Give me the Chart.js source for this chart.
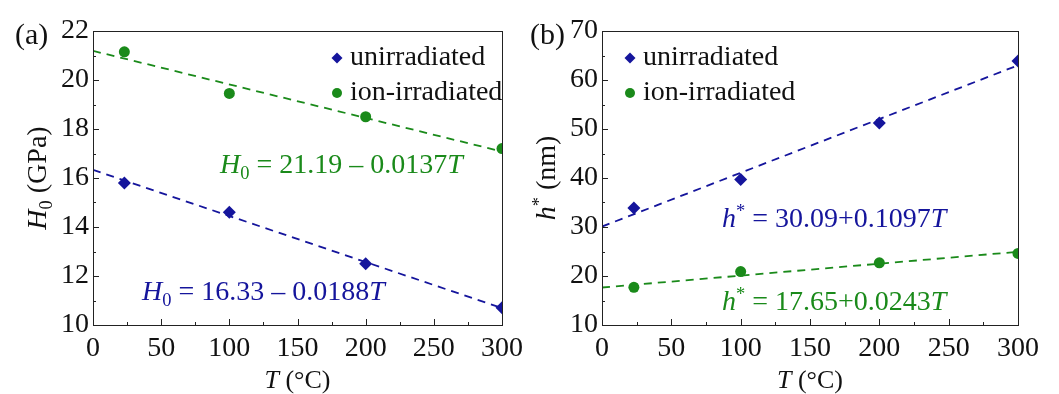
<!DOCTYPE html>
<html>
<head>
<meta charset="utf-8">
<script src="https://cdn.jsdelivr.net/npm/chart.js"></script>
<style>
  body { margin: 0; background: #fff; }
  #wrap { position: relative; width: 1059px; height: 394px; overflow: hidden; }
  .panel { position: absolute; top: 0; }
</style>
</head>
<body>
<div id="wrap">
  <div class="panel" style="left:0"><canvas id="chartA" width="530" height="394"></canvas></div>
  <div class="panel" style="left:530px"><canvas id="chartB" width="529" height="394"></canvas></div>
</div>
<script>
// measured temperatures (°C)
const tempC = [23, 100, 200, 300];
// (a) hardness H0 (GPa)
const hardUnirr = [15.8, 14.6, 12.5, 10.7];
const hardIon = [21.15, 19.45, 18.5, 17.2];
// (b) characteristic depth h* (nm)
const depthUnirr = [33.9, 39.7, 51.2, 63.9];
const depthIon = [17.7, 20.9, 22.7, 24.6];
// linear fits [intercept, slope] as printed on the figure
const hardFitUnirr = [16.33, -0.0188];
const hardFitIon = [21.19, -0.0137];
const depthFitUnirr = [30.09, 0.1097];
const depthFitIon = [17.65, 0.0243];
const fitRange = [0, 300];
const seriesNames = ['unirradiated', 'ion-irradiated'];

const BLUE = '#15159c';
const GREEN = '#1a8a1a';
const FONT = "'Liberation Serif', 'DejaVu Serif', serif";

function pts(xs, ys) {
    return xs.map((x, i) => ({ x: x, y: ys[i] }));
}
function fitLine(c) {
    return fitRange.map(t => ({ x: t, y: c[0] + c[1] * t }));
}

// draw a run of text pieces (italic / sub / sup) starting at x
function drawPieces(ctx, pieces, x, y, size, color) {
    let cx = x;
    pieces.forEach(p => {
        let s = size, dy = 0;
        if (p.sub) { s = size * 0.66; dy = size * 0.22; }
        if (p.sup) { s = size * 0.66; dy = -size * 0.34; }
        ctx.font = (p.it ? 'italic ' : '') + s + 'px ' + FONT;
        ctx.fillStyle = color;
        ctx.fillText(p.t, cx, y + dy);
        cx += ctx.measureText(p.t).width;
    });
    return cx - x;
}
function piecesWidth(ctx, pieces, size) {
    let w = 0;
    pieces.forEach(p => {
        const s = (p.sub || p.sup) ? size * 0.66 : size;
        ctx.font = (p.it ? 'italic ' : '') + s + 'px ' + FONT;
        w += ctx.measureText(p.t).width;
    });
    return w;
}

const decorPlugin = {
    id: 'decor',
    afterDraw(chart, args, o) {
        const ctx = chart.ctx;
        const a = chart.chartArea;
        const xs = chart.scales.x, ys = chart.scales.y;
        ctx.save();
        ctx.strokeStyle = '#222';
        ctx.lineWidth = 1;
        ctx.strokeRect(Math.round(a.left) + 0.5, Math.round(a.top) + 0.5,
            Math.round(a.right - a.left), Math.round(a.bottom - a.top));
        // inward ticks
        ctx.beginPath();
        for (let v = xs.min; v <= xs.max; v += o.xMinor) {
            const px = Math.round(xs.getPixelForValue(v)) + 0.5;
            const len = (v % o.xMajor === 0) ? 6 : 3;
            ctx.moveTo(px, a.bottom);
            ctx.lineTo(px, a.bottom - len);
        }
        for (let v = ys.min; v <= ys.max; v += o.yMinor) {
            const py = Math.round(ys.getPixelForValue(v)) + 0.5;
            const len = ((v - ys.min) % o.yMajor === 0) ? 6 : 3;
            ctx.moveTo(a.left, py);
            ctx.lineTo(a.left + len, py);
        }
        ctx.stroke();

        ctx.textBaseline = 'alphabetic';
        // panel label
        ctx.font = '30px ' + FONT;
        ctx.fillStyle = '#111';
        ctx.fillText(o.label, o.labelX, 44);

        // x title
        const xt = [{ t: 'T', it: true }, { t: ' (°C)' }];
        const xw = piecesWidth(ctx, xt, 26);
        drawPieces(ctx, xt, (a.left + a.right) / 2 - xw / 2, 388, 26, '#111');

        // y title (rotated)
        const yw = piecesWidth(ctx, o.yTitle, 28);
        ctx.save();
        ctx.translate(o.yTitleX, (a.top + a.bottom) / 2);
        ctx.rotate(-Math.PI / 2);
        drawPieces(ctx, o.yTitle, -yw / 2, 0, 28, '#111');
        ctx.restore();

        // legend
        chart.data.datasets.slice(0, 2).forEach((ds, i) => {
            const my = o.legendY + i * 35;
            ctx.fillStyle = ds.backgroundColor;
            ctx.beginPath();
            if (ds.pointStyle === 'rectRot') {
                ctx.moveTo(o.legendX - 5.5, my);
                ctx.lineTo(o.legendX, my - 5.5);
                ctx.lineTo(o.legendX + 5.5, my);
                ctx.lineTo(o.legendX, my + 5.5);
                ctx.closePath();
            } else {
                ctx.arc(o.legendX, my, 5, 0, Math.PI * 2);
            }
            ctx.fill();
            ctx.font = '28px ' + FONT;
            ctx.fillStyle = '#111';
            ctx.fillText(ds.label, o.legendX + 13, my + 7);
        });

        // fit equations
        o.equations.forEach(eq => {
            drawPieces(ctx, eq.pieces, eq.x, eq.y, 28, eq.color);
        });
        ctx.restore();
    }
};

function makeChart(id, cfg) {
    return new Chart(document.getElementById(id), {
        type: 'scatter',
        data: {
            datasets: [
                { label: seriesNames[0], data: cfg.unirr, pointStyle: 'rectRot', pointRadius: 6.5,
                  backgroundColor: BLUE, borderColor: BLUE, borderWidth: 0, showLine: false },
                { label: seriesNames[1], data: cfg.ion, pointStyle: 'circle', pointRadius: 5.5,
                  backgroundColor: GREEN, borderColor: GREEN, borderWidth: 0, showLine: false },
                { label: 'fit1', data: cfg.fitUnirr, showLine: true, pointRadius: 0,
                  borderColor: BLUE, borderWidth: 1.8, borderDash: [8, 6], order: 5 },
                { label: 'fit2', data: cfg.fitIon, showLine: true, pointRadius: 0,
                  borderColor: GREEN, borderWidth: 1.8, borderDash: [8, 6], order: 5 }
            ]
        },
        options: {
            responsive: false,
            animation: false,
            devicePixelRatio: 1,
            layout: { padding: { top: 31, right: cfg.padRight, left: 0, bottom: 0 } },
            plugins: {
                legend: { display: false },
                tooltip: { enabled: false },
                decor: cfg.decor
            },
            scales: {
                x: {
                    type: 'linear', min: 0, max: 300,
                    ticks: { stepSize: 50, color: '#111', padding: 7, font: { family: FONT, size: 28 } },
                    grid: { display: false, drawTicks: false },
                    border: { display: false },
                    afterFit: s => { s.height = 69; }
                },
                y: {
                    type: 'linear', min: cfg.yMin, max: cfg.yMax,
                    ticks: { stepSize: cfg.yStep, color: '#111', padding: 4, font: { family: FONT, size: 28 } },
                    grid: { display: false, drawTicks: false },
                    border: { display: false },
                    afterFit: s => { s.width = cfg.yWidth; }
                }
            }
        },
        plugins: [decorPlugin]
    });
}

makeChart('chartA', {
    unirr: pts(tempC, hardUnirr),
    ion: pts(tempC, hardIon),
    fitUnirr: fitLine(hardFitUnirr),
    fitIon: fitLine(hardFitIon),
    yMin: 10, yMax: 22, yStep: 2, yWidth: 93, padRight: 23,
    decor: {
        label: '(a)', labelX: 15,
        xMajor: 50, xMinor: 25, yMajor: 2, yMinor: 1,
        yTitle: [{ t: 'H', it: true }, { t: '0', sub: true }, { t: ' (GPa)' }],
        yTitleX: 46,
        legendX: 337, legendY: 58,
        equations: [
            { pieces: [{ t: 'H', it: true }, { t: '0', sub: true }, { t: ' = 21.19 – 0.0137' }, { t: 'T', it: true }],
              x: 220, y: 173, color: GREEN },
            { pieces: [{ t: 'H', it: true }, { t: '0', sub: true }, { t: ' = 16.33 – 0.0188' }, { t: 'T', it: true }],
              x: 142, y: 300, color: BLUE }
        ]
    }
});

makeChart('chartB', {
    unirr: pts(tempC, depthUnirr),
    ion: pts(tempC, depthIon),
    fitUnirr: fitLine(depthFitUnirr),
    fitIon: fitLine(depthFitIon),
    yMin: 10, yMax: 70, yStep: 10, yWidth: 72, padRight: 41,
    decor: {
        label: '(b)', labelX: 0,
        xMajor: 50, xMinor: 25, yMajor: 10, yMinor: 5,
        yTitle: [{ t: 'h', it: true }, { t: '*', sup: true }, { t: ' (nm)' }],
        yTitleX: 25,
        legendX: 100, legendY: 58,
        equations: [
            { pieces: [{ t: 'h', it: true }, { t: '*', sup: true }, { t: ' = 30.09+0.1097' }, { t: 'T', it: true }],
              x: 192, y: 227, color: BLUE },
            { pieces: [{ t: 'h', it: true }, { t: '*', sup: true }, { t: ' = 17.65+0.0243' }, { t: 'T', it: true }],
              x: 192, y: 310, color: GREEN }
        ]
    }
});
</script>
</body>
</html>
